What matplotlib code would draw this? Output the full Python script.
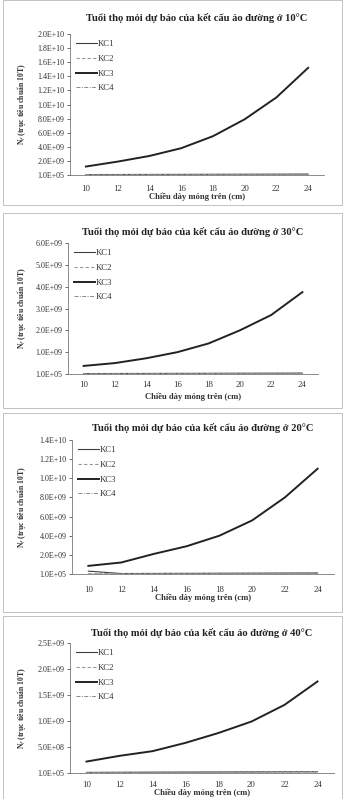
import matplotlib
matplotlib.use("Agg")
import matplotlib.pyplot as plt
from matplotlib.patches import Rectangle
import numpy as np

plt.rcParams['font.family'] = ['Liberation Serif', 'DejaVu Serif']

thickness = [10, 12, 14, 16, 18, 20, 22, 24]
series_names = ["KC1", "KC2", "KC3", "KC4"]

# Panel 1: 10°C
kc3_10 = [1.2e9, 1.9e9, 2.7e9, 3.8e9, 5.5e9, 7.9e9, 1.1e10, 1.52e10]
kc1_10 = [6e7, 7e7, 8e7, 9e7, 1.0e8, 1.1e8, 1.2e8, 1.3e8]
kc2_10 = [3e7, 3.5e7, 4e7, 4.5e7, 5e7, 5.5e7, 6e7, 6.5e7]
kc4_10 = [2e7, 2.5e7, 3e7, 3.5e7, 4e7, 4.5e7, 5e7, 5.5e7]
# Panel 2: 30°C
kc3_30 = [0.37e9, 0.5e9, 0.72e9, 1.0e9, 1.4e9, 2.0e9, 2.7e9, 3.75e9]
kc1_30 = [2e7, 2.3e7, 2.6e7, 2.9e7, 3.2e7, 3.5e7, 3.8e7, 4.1e7]
kc2_30 = [1e7, 1.2e7, 1.4e7, 1.6e7, 1.8e7, 2e7, 2.2e7, 2.4e7]
kc4_30 = [0.8e7, 1e7, 1.2e7, 1.4e7, 1.6e7, 1.8e7, 2e7, 2.2e7]
# Panel 3: 20°C
kc3_20 = [0.85e9, 1.2e9, 2.1e9, 2.9e9, 4.0e9, 5.6e9, 8.0e9, 1.1e10]
kc1_20 = [3e8, 5e7, 6e7, 7e7, 8e7, 9e7, 1.0e8, 1.1e8]
kc2_20 = [2e7, 2.5e7, 3e7, 3.5e7, 4e7, 4.5e7, 5e7, 5.5e7]
kc4_20 = [1e7, 1.5e7, 2e7, 2.5e7, 3e7, 3.5e7, 4e7, 4.5e7]
# Panel 4: 40°C
kc3_40 = [0.22e9, 0.33e9, 0.42e9, 0.58e9, 0.77e9, 0.99e9, 1.31e9, 1.76e9]
kc1_40 = [1.2e7, 1.4e7, 1.6e7, 1.8e7, 2e7, 2.2e7, 2.4e7, 2.6e7]
kc2_40 = [0.8e7, 1e7, 1.2e7, 1.4e7, 1.6e7, 1.8e7, 2e7, 2.2e7]
kc4_40 = [0.5e7, 0.7e7, 0.9e7, 1.1e7, 1.3e7, 1.5e7, 1.7e7, 1.9e7]

titles = ["Tuổi thọ mỏi dự báo của kết cấu áo đường ở 10°C",
          "Tuổi thọ mỏi dự báo của kết cấu áo đường ở 30°C",
          "Tuổi thọ mỏi dự báo của kết cấu áo đường ở 20°C",
          "Tuổi thọ mỏi dự báo của kết cấu áo đường ở 40°C"]
xlabel = "Chiều dày móng trên (cm)"
ylabel = "N$_f$ (trục tiêu chuẩn 10T)"

yticks_10 = [1e5] + [2e9 * k for k in range(1, 11)]
ylabels_10 = ["1.0E+05", "2.0E+09", "4.0E+09", "6.0E+09", "8.0E+09", "1.0E+10",
              "1.2E+10", "1.4E+10", "1.6E+10", "1.8E+10", "2.0E+10"]
yticks_30 = [1e5] + [1e9 * k for k in range(1, 7)]
ylabels_30 = ["1.0E+05", "1.0E+09", "2.0E+09", "3.0E+09", "4.0E+09", "5.0E+09", "6.0E+09"]
yticks_20 = [1e5] + [2e9 * k for k in range(1, 8)]
ylabels_20 = ["1.0E+05", "2.0E+09", "4.0E+09", "6.0E+09", "8.0E+09", "1.0E+10",
              "1.2E+10", "1.4E+10"]
yticks_40 = [1e5] + [5e8 * k for k in range(1, 6)]
ylabels_40 = ["1.0E+05", "5.0E+08", "1.0E+09", "1.5E+09", "2.0E+09", "2.5E+09"]

panels = [
    (kc1_10, kc2_10, kc3_10, kc4_10, yticks_10, ylabels_10),
    (kc1_30, kc2_30, kc3_30, kc4_30, yticks_30, ylabels_30),
    (kc1_20, kc2_20, kc3_20, kc4_20, yticks_20, ylabels_20),
    (kc1_40, kc2_40, kc3_40, kc4_40, yticks_40, ylabels_40),
]

W, H = 345, 799
fig = plt.figure(figsize=(W / 100, H / 100), dpi=100)

# axes boxes in pixels: left, right, top, bottom
boxes = [(70, 324, 34, 175), (68, 318, 243, 374), (72, 334, 440, 574), (70, 334, 643, 773)]
title_y = [18, 232, 428, 633]
xtick_y = [186, 383, 587, 783]
xlabel_y = [197, 397, 598, 793]
frames = [(3, 0, 342, 205), (3, 213, 342, 408), (3, 413, 342, 612), (3, 616, 342, 799)]

for (fx0, fy0, fx1, fy1) in frames:
    fig.add_artist(Rectangle((fx0 / W, 1 - fy1 / H), (fx1 - fx0) / W, (fy1 - fy0) / H,
                             transform=fig.transFigure, fill=False,
                             edgecolor="#b8b8b8", linewidth=0.6))

styles = [dict(color="#404040", lw=0.8, ls="-"),
          dict(color="#9a9a9a", lw=0.8, ls=(0, (3, 2))),
          dict(color="#222222", lw=1.4, ls="-"),
          dict(color="#8a8a8a", lw=0.7, ls=(0, (4, 1.5, 1, 1.5)))]

for i, (k1, k2, k3, k4, yt, yl) in enumerate(panels):
    l, r, t, b = boxes[i]
    ax = fig.add_axes([l / W, 1 - b / H, (r - l) / W, (b - t) / H])
    for name, vals, st in zip(series_names, [k1, k2, k3, k4], styles):
        ax.plot(thickness, vals, label=name, **st)
    ax.set_xlim(9, 25)
    ax.set_ylim(yt[0], yt[-1])
    ax.set_yticks(yt)
    ax.set_yticklabels(yl, fontsize=5.8, color="#333333")
    ax.set_xticks(thickness)
    ax.set_xticklabels([str(v) for v in thickness], fontsize=6.3, color="#333333")
    ax.tick_params(axis='x', length=0, pad=(xtick_y[i] - b) - 4)
    ax.tick_params(axis='y', length=2, width=0.6, pad=2, color="#555555")
    for s in ["top", "right"]:
        ax.spines[s].set_visible(False)
    ax.spines["left"].set_color("#777777")
    ax.spines["bottom"].set_color("#777777")
    ax.spines["left"].set_linewidth(0.6)
    ax.spines["bottom"].set_linewidth(0.6)
    ax.patch.set_alpha(0)
    leg = ax.legend(loc="upper left", bbox_to_anchor=(0.0, 1.0), frameon=False,
                    fontsize=6.3, handlelength=2.4, handletextpad=0.1,
                    labelspacing=0.75, borderaxespad=0.3)
    for txt in leg.get_texts():
        txt.set_color("#333333")
    fig.text((l + r) / 2 / W - 0.0, 1 - title_y[i] / H, titles[i], ha="center",
             va="center", fontsize=7.6, fontweight="bold", color="#222222")
    fig.text((l + r) / 2 / W, 1 - xlabel_y[i] / H, xlabel, ha="center", va="center",
             fontsize=6.2, fontweight="bold", color="#333333")
    fig.text(22 / W, 1 - (t + b) / 2 / H, ylabel, ha="center", va="center",
             rotation=90, fontsize=5.6, fontweight="bold", color="#333333")

fig.savefig("out.png", dpi=100)
